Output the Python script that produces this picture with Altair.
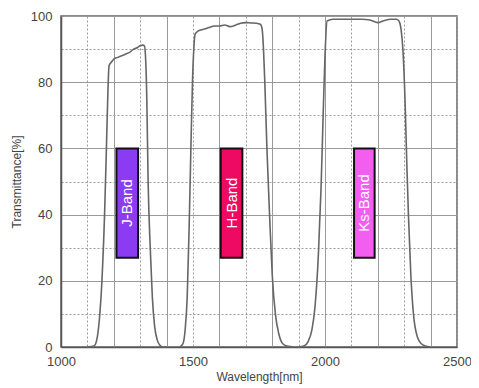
import altair as alt
import pandas as pd

# J band curve
j_wl = [1100, 1125, 1135, 1145, 1155, 1165, 1172, 1178, 1182, 1190, 1200, 1215, 1230, 1245,
        1260, 1275, 1290, 1300, 1310, 1316, 1320, 1325, 1330, 1338, 1346, 1355, 1365, 1375, 1385, 1400]
j_tr = [0, 0.3, 2, 8, 20, 40, 60, 78, 85, 86, 87, 87.5, 88, 88.5,
        89, 90, 90.5, 91, 91.2, 91, 88, 75, 50, 30, 15, 6, 2, 0.5, 0, 0]

# H band curve
h_wl = [1450, 1462, 1470, 1478, 1485, 1492, 1498, 1503, 1508, 1520, 1540, 1560, 1580, 1600, 1620,
        1640, 1660, 1680, 1700, 1720, 1740, 1755, 1762, 1767, 1772, 1780, 1790, 1800, 1812, 1825,
        1840, 1860, 1880]
h_tr = [0, 1, 5, 15, 35, 60, 80, 90, 94.5, 95.5, 96, 96.5, 97, 97, 97.3,
        96.8, 97.2, 97.8, 98, 97.9, 97.8, 97.5, 96, 90, 80, 60, 40, 22, 10, 4,
        1, 0.2, 0]

# Ks band curve
k_wl = [1900, 1920, 1935, 1950, 1962, 1975, 1985, 1993, 2000, 2008, 2030, 2060, 2100, 2140, 2170,
        2200, 2220, 2250, 2270, 2280, 2288, 2295, 2303, 2310, 2316, 2325, 2335, 2350, 2365, 2380, 2400]
k_tr = [0, 0.3, 1.5, 5, 12, 28, 48, 70, 88, 98.5, 99, 99, 99, 99, 98.8,
        98, 98.5, 99, 99, 98.5, 96, 90, 75, 55, 40, 22, 10, 3, 1, 0.3, 0]

# Band label boxes
band_names = ["J-Band", "H-Band", "Ks-Band"]
band_x0 = [1210, 1605, 2110]
band_x1 = [1292, 1687, 2188]
band_y0 = [27, 27, 27]
band_y1 = [60, 60, 60]
band_colors = ["#8B3BF2", "#EE0A62", "#F25EF0"]

curves = pd.concat([
    pd.DataFrame({"wl": j_wl, "tr": j_tr, "band": "J"}),
    pd.DataFrame({"wl": h_wl, "tr": h_tr, "band": "H"}),
    pd.DataFrame({"wl": k_wl, "tr": k_tr, "band": "K"}),
])

boxes = pd.DataFrame({
    "name": band_names, "x0": band_x0, "x1": band_x1,
    "y0": band_y0, "y1": band_y1, "color": band_colors,
})
boxes["xm"] = (boxes["x0"] + boxes["x1"]) / 2
boxes["ym"] = (boxes["y0"] + boxes["y1"]) / 2

x_scale = alt.Scale(domain=[1000, 2500], nice=False, zero=False)
y_scale = alt.Scale(domain=[0, 100], nice=False)

x_axis = alt.Axis(
    title="Wavelength[nm]",
    values=list(range(1000, 2501, 100)),
    labelExpr="datum.value % 500 == 0 ? datum.label : ''",
    format="d",
    ticks=False, labelPadding=8, titlePadding=3,
    gridColor="#9a9a9a", gridOpacity=1, gridWidth=1,
    gridDash={"condition": {"test": "datum.value % 200 != 0", "value": [2, 2]}, "value": []},
    domainColor="#555", domainWidth=1.5,
    labelFont="Liberation Sans", labelFontSize=13, labelColor="#444",
    titleFont="Liberation Sans", titleFontSize=12, titleFontWeight="normal", titleColor="#444",
    labelFlush=False, labelOverlap=False,
)
y_axis = alt.Axis(
    title="Transmittance[%]",
    values=list(range(0, 101, 10)),
    labelExpr="datum.value % 20 == 0 ? datum.label : ''",
    ticks=False, labelPadding=9, titlePadding=7,
    gridColor="#9a9a9a", gridOpacity=1, gridWidth=1,
    gridDash={"condition": {"test": "datum.value % 20 != 0", "value": [2, 2]}, "value": []},
    domainColor="#555", domainWidth=1.5,
    labelFont="Liberation Sans", labelFontSize=13, labelColor="#444",
    titleFont="Liberation Sans", titleFontSize=12, titleFontWeight="normal", titleColor="#444",
    labelFlush=False, labelOverlap=False,
)

lines = alt.Chart(curves).mark_line(
    color="#666666", strokeWidth=1.6, interpolate="monotone"
).encode(
    x=alt.X("wl:Q", scale=x_scale, axis=x_axis),
    y=alt.Y("tr:Q", scale=y_scale, axis=y_axis),
    detail="band:N",
)

rects = alt.Chart(boxes).mark_rect(stroke="#111", strokeWidth=2).encode(
    x=alt.X("x0:Q", scale=x_scale, axis=x_axis),
    x2="x1:Q",
    y=alt.Y("y0:Q", scale=y_scale, axis=y_axis),
    y2="y1:Q",
    fill=alt.Fill("color:N", scale=None),
)

labels = alt.Chart(boxes).mark_text(
    angle=270, color="white", font="Liberation Sans", fontSize=15
).encode(
    x=alt.X("xm:Q", scale=x_scale, axis=x_axis),
    y=alt.Y("ym:Q", scale=y_scale, axis=y_axis),
    text="name:N",
)

chart = alt.layer(lines, rects, labels).properties(
    width=396, height=331,
    autosize=alt.AutoSizeParams(type="none"),
    padding={"left": 53, "top": 8, "right": 14, "bottom": 37},
    background="white",
).configure_view(stroke="#666", strokeWidth=1.5)

chart.save("out.html", embed_options={"renderer": "svg", "actions": False})
